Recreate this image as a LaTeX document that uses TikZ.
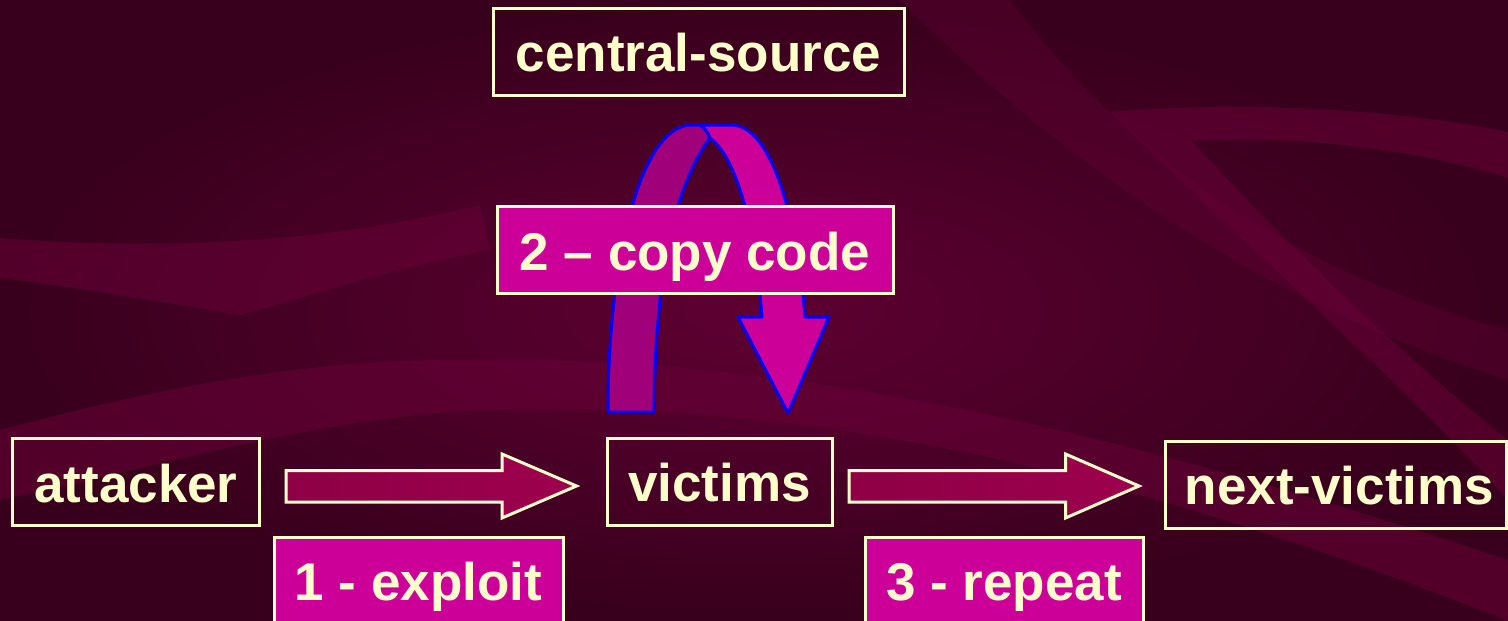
\documentclass[tikz,border=0pt]{standalone}
\usepackage{fontspec}
\setmainfont{Liberation Sans}
\definecolor{cream}{HTML}{FFFFCC}
\definecolor{magbox}{HTML}{CC0099}
\definecolor{arrowfill}{HTML}{9E004E}
\definecolor{arrowleft}{HTML}{8E0046}
\definecolor{ribdark}{HTML}{A0007A}
\definecolor{ribbright}{HTML}{CC0099}
\definecolor{ribline}{HTML}{0000FF}
\definecolor{bginner}{HTML}{5E0032}
\definecolor{bgouter}{HTML}{38001C}
\definecolor{bgband}{HTML}{680037}
\newcommand{\lblfont}{\bfseries\fontsize{53}{60}\selectfont}
\begin{document}
\begin{tikzpicture}[x=1pt,y=-1pt,
  plainbox/.style={draw=cream, line width=3pt, text=cream, font=\lblfont,
    minimum height=87pt, text height=40pt, text depth=0pt, inner sep=0pt},
  stepbox/.style={plainbox, fill=magbox},
  blockarrow/.style={draw=cream, line width=3pt, line join=miter, left color=arrowleft, right color=arrowfill},
  ribbon/.style={draw=ribline, line width=3pt, line join=round},
  band/.style={fill=bgband, opacity=0.55}
]
\useasboundingbox (0,0) rectangle (1508,621);
% background
\shade[inner color=bginner, outer color=bgouter] (0,0) rectangle (1508,621);
\fill[band] (0,238) .. controls (150,250) and (320,245) .. (480,205)
  -- (490,250) .. controls (380,270) and (300,300) .. (240,315)
  .. controls (150,300) and (60,285) .. (0,278) -- cycle;
\fill[band] (1110,112) .. controls (1250,100) and (1400,110) .. (1508,132)
  -- (1508,178) .. controls (1420,150) and (1300,135) .. (1192,141) -- cycle;
\fill[band] (1192,141) .. controls (1300,260) and (1420,370) .. (1508,440)
  -- (1508,500) .. controls (1400,380) and (1250,250) .. (1110,112) -- cycle;
\fill[band] (0,430) .. controls (150,390) and (300,360) .. (450,360)
  .. controls (700,355) and (1000,390) .. (1508,560)
  -- (1508,621) .. controls (1100,460) and (800,400) .. (480,410)
  .. controls (300,420) and (150,470) .. (0,500) -- cycle;
\fill[band, opacity=0.35] (900,0) -- (1010,0) .. controls (1100,120) and (1250,260) .. (1508,330)
  -- (1508,380) .. controls (1250,300) and (1050,150) .. (900,0) -- cycle;
% curved arrow (2 - copy code)
\draw[ribbon, fill=ribdark] (608,412) -- (654,412)
  .. controls (655,300) and (668,195) .. (710,138)
  .. controls (708,132) and (704,127) .. (700,125) -- (690,125)
  .. controls (640,128) and (608,260) .. (608,412) -- cycle;
\draw[ribbon, fill=ribbright] (700,125) -- (733,125)
  .. controls (775,128) and (798,230) .. (805,317)
  -- (829,317) -- (788,413) -- (738,317) -- (762,317)
  .. controls (756,240) and (740,160) .. (710,138)
  .. controls (708,132) and (704,127) .. (700,125) -- cycle;
% boxes
\node[plainbox, minimum width=411pt] (central) at (698.5,51.5) {central-source};
\node[stepbox, minimum width=396pt] (copy) at (695,250) {2 -- copy code};
\node[plainbox, minimum width=247pt] (attacker) at (136,482) {attacker};
\node[plainbox, minimum width=225pt] (victims) at (719.5,481.5) {victims};
\node[plainbox, minimum width=341pt] (next) at (1335.5,484.5) {\hspace*{8pt}next-victims};
\node[stepbox, minimum width=289pt] (exploit) at (418.5,580.5) {1 - exploit};
\node[stepbox, minimum width=278pt] (repeat) at (1004,580.5) {3 - repeat};
% straight block arrows
\draw[blockarrow] (286,470.5) -- (502,470.5) -- (502,454) -- (576.5,486)
  -- (502,518) -- (502,502) -- (286,502) -- cycle;
\draw[blockarrow] (849,470.5) -- (1065.5,470.5) -- (1065.5,454) -- (1139,486)
  -- (1065.5,518) -- (1065.5,502) -- (849,502) -- cycle;
\end{tikzpicture}
\end{document}
